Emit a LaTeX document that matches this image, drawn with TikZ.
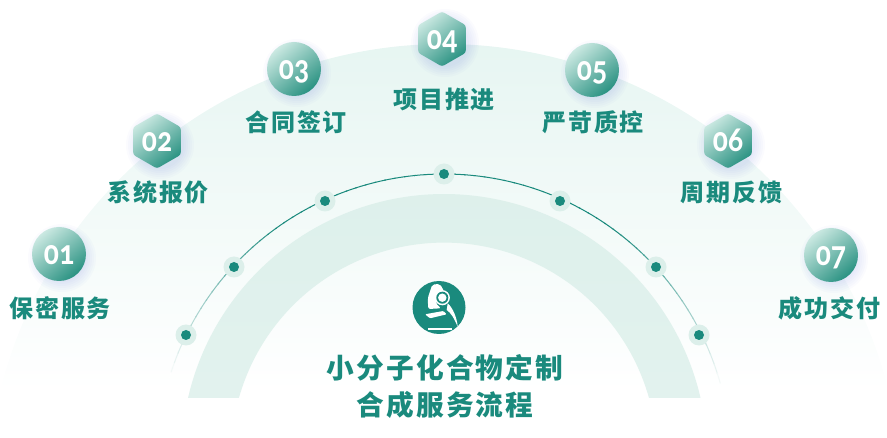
\documentclass[tikz,border=0pt]{standalone}
\usepackage{fontspec}
\usetikzlibrary{shapes.geometric}
\newfontfamily\cjkfont[LetterSpace=7]{Noto Sans CJK SC}
\newfontfamily\titlefont[LetterSpace=8]{Noto Sans CJK SC}
\newfontfamily\numfont[Numbers=OldStyle,FakeStretch=0.85]{Carlito}
\newcommand{\stepno}[1]{\raisebox{-10.5pt}[0pt][0pt]{#1}}
\definecolor{tealmain}{HTML}{1A8A7D}
\definecolor{tealring}{HTML}{DDF0EB}
\definecolor{tealhalo}{HTML}{DCEFEA}
\definecolor{tealtop}{HTML}{E3F4F0}
\definecolor{gradlight}{HTML}{CBE9E2}
\definecolor{graddark}{HTML}{2A9282}
\definecolor{softblue}{HTML}{8090E0}
\tikzset{
  stepnum/.style={text=white,font=\numfont\bfseries\fontsize{35}{35}\selectfont,
    inner sep=0pt,top color=gradlight,bottom color=graddark,shading angle=40},
  roundbox/.style={stepnum,circle,minimum size=54pt},
  hexbox/.style={stepnum,regular polygon,regular polygon sides=6,shape border rotate=30,
    minimum size=55pt,rounded corners=2.5pt},
  steptext/.style={text=tealmain,font=\cjkfont\bfseries\fontsize{24}{24}\selectfont,inner sep=0pt},
  titletext/.style={text=tealmain,font=\titlefont\bfseries\fontsize{27.7}{27.7}\selectfont,inner sep=0pt},
  halo/.style={circle,fill=tealhalo,minimum size=21pt,inner sep=0pt},
  dotmark/.style={circle,fill=tealmain,minimum size=10pt,inner sep=0pt}
}
\begin{document}
\begin{tikzpicture}[x=1pt,y=-1pt]
  \useasboundingbox (0,0) rectangle (887,438);

  % backdrop and band
  \shade[top color=tealtop,bottom color=white]
    (0,392) -- (3,380) arc[start angle=195.46,end angle=344.54,radius=458] -- (887,392) -- cycle;
  \shade[top color=tealring,bottom color=tealring!85!white]
    (188,398) arc[start angle=192.98,end angle=347.02,radius=263]
    -- (649,398) arc[start angle=344.3,end angle=195.7,radius=213] -- cycle;

  % thin arc, fading at both ends
  \foreach \a in {196,198,...,342} {
    \pgfmathsetmacro{\pc}{min(100,(74-abs(270-\a))*2.6)}
    \draw[tealmain!\pc!white,line width=1pt] (444,461) ++(\a:287) arc[start angle=\a,end angle=\a+2.3,radius=287];
  }

  % dots on the arc
  \foreach \x/\y/\name in {186/335/a,234/267/b,325/201/c,444/174/d,560/201/e,656/267/f,699/335/g} {
    \node[halo] (halo\name) at (\x,\y) {};
    \node[dotmark] (dot\name) at (\x,\y) {};
  }

  % soft shadows under the badges
  \foreach \x/\y in {59/254,157/141,294/69,442/39,592/70,728/141,831/255}
    \foreach \r in {24,26,...,34}
      \fill[softblue,opacity=.035] (\x+3,\y+4) circle[radius=\r];

  % badges
  \node[roundbox] (s1) at (59,254) {\stepno{01}};
  \node[hexbox]   (s2) at (157,141) {\stepno{02}};
  \node[roundbox] (s3) at (294,69) {\stepno{03}};
  \node[hexbox]   (s4) at (442,39) {\stepno{04}};
  \node[roundbox] (s5) at (592,70) {\stepno{05}};
  \node[hexbox]   (s6) at (728,141) {\stepno{06}};
  \node[roundbox] (s7) at (831,255) {\stepno{07}};

  \node[steptext] (t1) at (60.5,308) {保密服务};
  \node[steptext] (t2) at (158.5,192) {系统报价};
  \node[steptext] (t3) at (296.5,122) {合同签订};
  \node[steptext] (t4) at (444.5,99) {项目推进};
  \node[steptext] (t5) at (593.5,122) {严苛质控};
  \node[steptext] (t6) at (731.5,192) {周期反馈};
  \node[steptext] (t7) at (829.5,308) {成功交付};

  % microscope icon
  \node[circle,fill=tealmain,minimum size=53pt,inner sep=0pt] (icon) at (439,307.5) {};
  \fill[white,rounded corners=2pt] (432.3,284.5) -- (440,284) -- (444.3,291.7) -- (436.7,295) -- (435.7,303.3)
    -- (441,308.3) -- (428.3,309) -- (427.7,298.3) -- cycle;
  \fill[white] (442.3,297.7) circle[radius=7.6];
  \fill[tealmain] (442.3,297.7) circle[radius=6];
  \fill[white] (442.3,297.7) circle[radius=4.2];
  \fill[white,rounded corners=1pt] (425,314.3) -- (443.3,311) -- (446.7,314.3) -- (430,318.3) -- cycle;
  \fill[white] (447.7,303.3) .. controls (453,308) and (457,318) .. (457.7,326.7)
    .. controls (454,318) and (451,313) .. (446.7,310) -- cycle;
  \fill[white] (428,328) -- (452,328) -- (452,330.3) -- (428,330.3) -- cycle;

  \node[titletext] (title1) at (445,368) {小分子化合物定制};
  \node[titletext] (title2) at (445,405) {合成服务流程};

\end{tikzpicture}
\end{document}
